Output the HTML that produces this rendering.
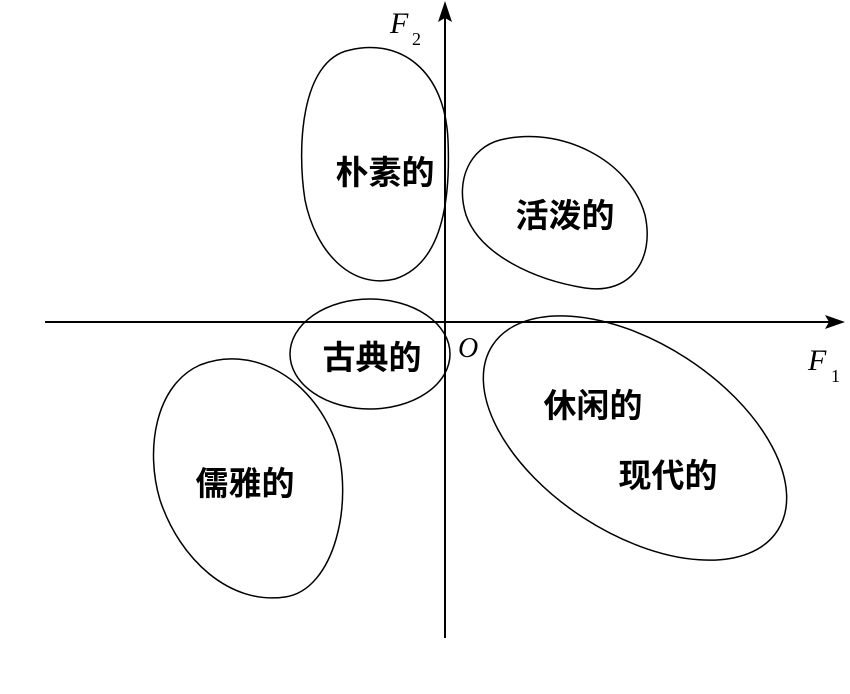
<!DOCTYPE html>
<html><head><meta charset="utf-8"><style>
html,body{margin:0;padding:0;background:#fff;}
svg{display:block;}
.c{font-family:"Liberation Sans","Noto Sans CJK SC",sans-serif;font-size:33px;font-weight:bold;fill:#000;text-anchor:middle;}
.l{font-family:"Liberation Serif",serif;font-style:italic;fill:#000;}
</style></head><body>
<svg width="850" height="694" viewBox="0 0 850 694" xmlns="http://www.w3.org/2000/svg">
<g stroke="#000" stroke-width="2" fill="none">
<line x1="45" y1="322" x2="832" y2="322"/>
<line x1="445" y1="638" x2="445" y2="14"/>
<path d="M350,50 C400,38 445,70 448,140 C451,210 438,265 395,279 C350,290 315,250 305,200 C297,150 300,60 350,50 Z" stroke-width="1.5"/>
<path d="M500,140 C560,125 630,160 645,215 C655,260 630,295 585,288 C535,280 480,255 466,215 C455,180 470,148 500,140 Z" stroke-width="1.5"/>
<ellipse cx="370" cy="354" rx="80" ry="55" stroke-width="1.5"/>
<path d="M200,365 C250,345 310,375 335,440 C355,500 335,590 285,597 C230,605 180,560 160,500 C145,450 155,385 200,365 Z" stroke-width="1.5"/>
<ellipse cx="635" cy="438" rx="170" ry="95" transform="rotate(33 635 438)" stroke-width="1.5"/>
</g>
<polygon points="845,322 825,315 829,322 825,329" fill="#000"/>
<polygon points="445,1 438,22 445,18 452,22" fill="#000"/>
<text class="c" x="385" y="184">朴素的</text>
<text class="c" x="565" y="227">活泼的</text>
<text class="c" x="372" y="369">古典的</text>
<text class="c" x="245" y="495">儒雅的</text>
<text class="c" x="593" y="417">休闲的</text>
<text class="c" x="668" y="487">现代的</text>
<text class="l" x="458" y="357" font-size="28">O</text>
<text class="l" x="390" y="33" font-size="30">F</text>
<text x="412" y="45" font-family="Liberation Serif,serif" font-size="18">2</text>
<text class="l" x="808" y="370" font-size="30">F</text>
<text x="831" y="382" font-family="Liberation Serif,serif" font-size="18">1</text>
</svg>
</body></html>
